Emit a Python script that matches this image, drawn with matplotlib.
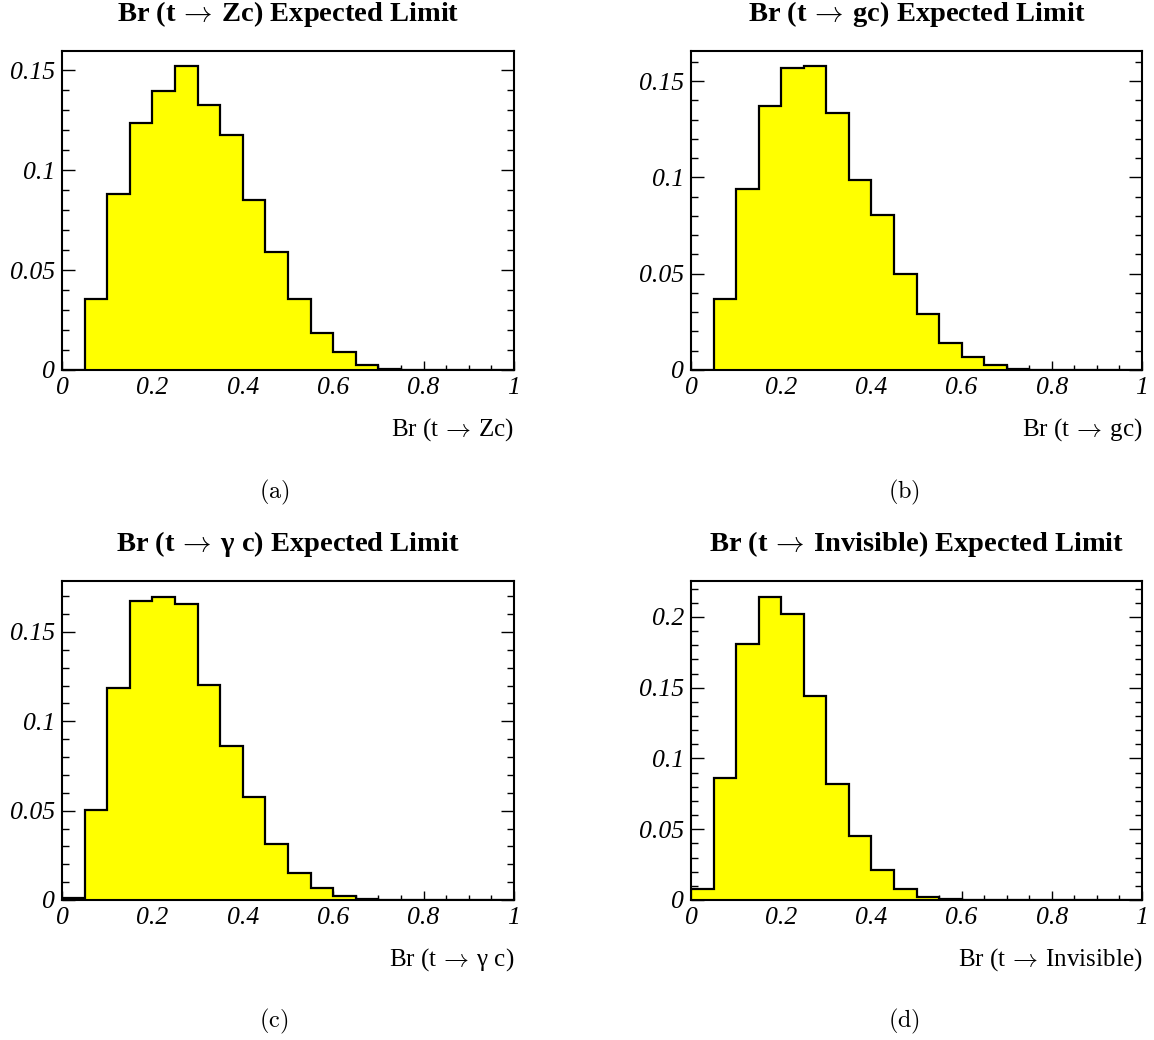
import numpy as np
import matplotlib
matplotlib.use("Agg")
import matplotlib.pyplot as plt
from matplotlib.ticker import MultipleLocator, FuncFormatter

plt.rcParams['mathtext.fontset'] = 'cm'
SERIF = ['Liberation Serif', 'DejaVu Serif']

bin_edges = np.linspace(0.0, 1.0, 21)

br_zc = [0.0, 0.0353, 0.0883, 0.1235, 0.1398, 0.1522, 0.1328, 0.1175, 0.0852, 0.0590,
         0.0355, 0.0185, 0.0088, 0.0025, 0.0003, 0.0001, 0.0, 0.0, 0.0, 0.0]
br_gc = [0.0, 0.0367, 0.0941, 0.1369, 0.1569, 0.1578, 0.1336, 0.0988, 0.0804, 0.0497,
         0.0291, 0.0140, 0.0066, 0.0024, 0.0005, 0.0001, 0.0, 0.0, 0.0, 0.0]
br_gam = [0.0011, 0.0503, 0.1189, 0.1671, 0.1694, 0.1656, 0.1202, 0.0863, 0.0579, 0.0313,
          0.0153, 0.0069, 0.0022, 0.0004, 0.0001, 0.0, 0.0, 0.0, 0.0, 0.0]
br_inv = [0.0078, 0.0859, 0.1809, 0.2141, 0.2019, 0.1440, 0.0819, 0.0454, 0.0209, 0.0078,
          0.0024, 0.0005, 0.0001, 0.0, 0.0, 0.0, 0.0, 0.0, 0.0, 0.0]

ARROW = r"$\,\rightarrow\,$"
titles = ["Br (t" + ARROW + "Zc) Expected Limit", "Br (t" + ARROW + "gc) Expected Limit",
          "Br (t" + ARROW + "\u03b3 c) Expected Limit", "Br (t" + ARROW + "Invisible) Expected Limit"]
xlabels = ["Br (t" + ARROW + "Zc)", "Br (t" + ARROW + "gc)",
           "Br (t" + ARROW + "\u03b3 c)", "Br (t" + ARROW + "Invisible)"]
captions = ["(a)", "(b)", "(c)", "(d)"]
ymaxes = [0.1597, 0.1657, 0.1785, 0.2254]
series = [br_zc, br_gc, br_gam, br_inv]

W, H = 1154, 1040
fig = plt.figure(figsize=(W / 100, H / 100), dpi=100)

# pixel boxes: left, right, top, bottom
boxes = [(62, 514, 51, 370), (691, 1142, 51, 370), (62, 514, 581, 900), (691, 1142, 581, 900)]
cap_pos = [(274, 492), (904, 492), (274, 1021), (904, 1021)]

fmt = FuncFormatter(lambda v, p: ("%g" % round(v, 4)))

for i in range(4):
    l, r, t, b = boxes[i]
    ax = fig.add_axes([l / W, (H - b) / H, (r - l) / W, (b - t) / H])
    ax.stairs(series[i], bin_edges, fill=True, facecolor='#ffff00', edgecolor='none', zorder=2)
    ax.stairs(series[i], bin_edges, fill=False, edgecolor='black', linewidth=1.6, zorder=3)
    ax.set_xlim(0, 1)
    ax.set_ylim(0, ymaxes[i])
    for s in ax.spines.values():
        s.set_linewidth(1.5)
        s.set_zorder(4)
    ax.xaxis.set_major_locator(MultipleLocator(0.2))
    ax.xaxis.set_minor_locator(MultipleLocator(0.05))
    ax.yaxis.set_major_locator(MultipleLocator(0.05))
    ax.yaxis.set_minor_locator(MultipleLocator(0.01))
    ax.xaxis.set_major_formatter(fmt)
    ax.yaxis.set_major_formatter(fmt)
    ax.tick_params(axis='x', which='major', direction='in', length=6.5, width=1.0, pad=5, top=False)
    ax.tick_params(axis='x', which='minor', direction='in', length=3.6, width=1.0, top=False)
    ax.tick_params(axis='y', which='major', direction='in', length=9.4, width=1.0, pad=5, right=True)
    ax.tick_params(axis='y', which='minor', direction='in', length=5.0, width=1.0, right=True)
    for lab in ax.get_xticklabels() + ax.get_yticklabels():
        lab.set_fontfamily(SERIF)
        lab.set_fontstyle('italic')
        lab.set_fontsize(18.5)
    ph = b - t
    ax.text(0.5, 1 + 37 / ph, titles[i], transform=ax.transAxes, ha='center', va='center',
            fontfamily=SERIF, fontweight='bold', fontsize=20.5)
    ax.text(1.0, -60 / ph, xlabels[i], transform=ax.transAxes, ha='right', va='center',
            fontfamily=SERIF, fontsize=18)
    cx, cy = cap_pos[i]
    fig.text(cx / W, 1 - cy / H, r'$\mathrm{' + captions[i] + '}$', ha='center', va='center', fontsize=17.5)

fig.savefig("out.png", dpi=100)
